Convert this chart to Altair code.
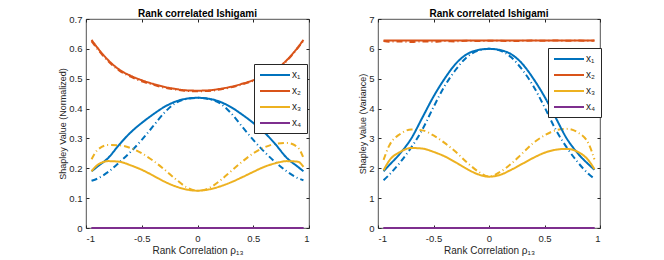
import altair as alt
import pandas as pd

rho = [-0.95, -0.9, -0.8, -0.7, -0.6, -0.5, -0.4, -0.3, -0.2, -0.1, 0.0,
       0.1, 0.2, 0.3, 0.4, 0.5, 0.6, 0.7, 0.8, 0.9, 0.95]
variables = ["x₁", "x₂", "x₃", "x₄"]
colors = ["#0072BD", "#D95319", "#EDB120", "#7E2F8E"]
methods = ["solid", "dashdot"]

# ---- left panel: normalized Shapley values ----
norm_x1_solid = [0.19, 0.205, 0.235, 0.28, 0.32, 0.352, 0.38, 0.405, 0.423, 0.433, 0.436,
                 0.433, 0.423, 0.405, 0.38, 0.352, 0.32, 0.28, 0.235, 0.205, 0.19]
norm_x1_dash = [0.158, 0.165, 0.188, 0.22, 0.255, 0.295, 0.34, 0.385, 0.418, 0.432, 0.436,
                0.432, 0.418, 0.385, 0.34, 0.295, 0.255, 0.22, 0.19, 0.167, 0.16]
norm_x2_solid = [0.63, 0.605, 0.562, 0.53, 0.51, 0.495, 0.483, 0.473, 0.466, 0.461, 0.46,
                 0.461, 0.466, 0.473, 0.483, 0.495, 0.51, 0.53, 0.562, 0.605, 0.63]
norm_x2_dash = [0.626, 0.601, 0.558, 0.527, 0.507, 0.491, 0.48, 0.47, 0.464, 0.459, 0.458,
                0.459, 0.464, 0.471, 0.481, 0.493, 0.508, 0.528, 0.56, 0.603, 0.628]
norm_x3_solid = [0.19, 0.21, 0.224, 0.222, 0.21, 0.195, 0.176, 0.156, 0.14, 0.129, 0.125,
                 0.129, 0.139, 0.153, 0.17, 0.188, 0.205, 0.217, 0.224, 0.222, 0.205]
norm_x3_dash = [0.23, 0.26, 0.278, 0.277, 0.268, 0.25, 0.226, 0.197, 0.165, 0.137, 0.125,
                0.133, 0.158, 0.19, 0.222, 0.25, 0.27, 0.282, 0.285, 0.27, 0.235]
norm_x4 = [0.0] * 21

# ---- right panel: Shapley values (variance) ----
var_x1_solid = [1.9, 2.1, 2.5, 3.0, 3.7, 4.4, 5.0, 5.5, 5.82, 5.96, 6.0,
                5.96, 5.82, 5.5, 5.0, 4.4, 3.7, 3.0, 2.5, 2.12, 1.95]
var_x1_dash = [1.6, 1.78, 2.2, 2.7, 3.3, 4.05, 4.75, 5.3, 5.72, 5.94, 6.0,
               5.94, 5.72, 5.3, 4.75, 4.05, 3.3, 2.7, 2.2, 1.8, 1.65]
var_x2_solid = [6.28, 6.28, 6.28, 6.28, 6.28, 6.28, 6.28, 6.28, 6.28, 6.28, 6.28,
                6.28, 6.28, 6.28, 6.28, 6.28, 6.28, 6.28, 6.28, 6.28, 6.28]
var_x2_dash = [6.26, 6.24, 6.25, 6.23, 6.25, 6.24, 6.26, 6.25, 6.27, 6.26, 6.27,
               6.27, 6.26, 6.27, 6.28, 6.27, 6.28, 6.27, 6.28, 6.27, 6.28]
var_x3_solid = [1.93, 2.25, 2.55, 2.68, 2.66, 2.55, 2.4, 2.2, 1.98, 1.8, 1.72,
                1.78, 1.95, 2.15, 2.35, 2.52, 2.62, 2.65, 2.55, 2.25, 1.97]
var_x3_dash = [2.28, 2.75, 3.15, 3.3, 3.27, 3.1, 2.85, 2.55, 2.2, 1.9, 1.72,
               1.88, 2.15, 2.5, 2.85, 3.1, 3.27, 3.32, 3.2, 2.8, 2.3]
var_x4 = [0.0] * 21


def build(series):
    rows = []
    for (v, m), vals in series.items():
        for r, y in zip(rho, vals):
            rows.append({"rho": r, "value": y, "var": v, "method": m})
    return pd.DataFrame(rows)


df_norm = build({
    ("x₁", "dashdot"): norm_x1_dash, ("x₂", "dashdot"): norm_x2_dash,
    ("x₃", "dashdot"): norm_x3_dash, ("x₄", "dashdot"): norm_x4,
    ("x₁", "solid"): norm_x1_solid, ("x₂", "solid"): norm_x2_solid,
    ("x₃", "solid"): norm_x3_solid, ("x₄", "solid"): norm_x4,
})
df_var = build({
    ("x₁", "dashdot"): var_x1_dash, ("x₂", "dashdot"): var_x2_dash,
    ("x₃", "dashdot"): var_x3_dash, ("x₄", "dashdot"): var_x4,
    ("x₁", "solid"): var_x1_solid, ("x₂", "solid"): var_x2_solid,
    ("x₃", "solid"): var_x3_solid, ("x₄", "solid"): var_x4,
})

FONT = "Liberation Sans"
INK = "#262626"
x_ticks = [-1, -0.5, 0, 0.5, 1]


def panel(df, ymax, yticks, ytitle, lx, ly, w, spaces):
    xs = alt.Scale(domain=[-1, 1], nice=False, zero=False)
    ys = alt.Scale(domain=[0, ymax], nice=False)
    lines = alt.Chart(df).mark_line(strokeWidth=2, interpolate="monotone").encode(
        x=alt.X("rho:Q", scale=xs, axis=alt.Axis(
            values=x_ticks, labelExpr="toString(datum.value)",
            title="Rank Correlation ρ₁₃", offset=-3, tickSize=3, domain=False,
            grid=False, labelPadding=5, titlePadding=3, labelFontSize=9.5,
            titleFontSize=10, titleFontWeight="normal")),
        y=alt.Y("value:Q", scale=ys, axis=alt.Axis(
            values=yticks, labelExpr="toString(datum.value)", title=ytitle,
            offset=-3, tickSize=3, domain=False, grid=False, labelPadding=4,
            titlePadding=1, labelFontSize=9.5, titleFontSize=9,
            titleFontWeight="normal")),
        color=alt.Color("var:N", scale=alt.Scale(domain=variables, range=colors),
                        legend=alt.Legend(
                            orient="none", legendX=lx, legendY=ly, title=None,
                            symbolType="M-1,0H5", symbolSize=100,
                            symbolStrokeWidth=2, labelOffset=21,
                            labelExpr="datum.label + '" + spaces + "'",
                            labelFontSize=10, labelFont=FONT, labelColor=INK,
                            fillColor="white", strokeColor=INK, padding=5,
                            rowPadding=5)),
        strokeDash=alt.StrokeDash("method:N", scale=alt.Scale(
            domain=methods, range=[[1, 0], [6, 3, 1, 3]]), legend=None),
    )
    frame = alt.Chart(df).mark_point(opacity=0).encode(
        x=alt.X("rho:Q", scale=xs, axis=alt.Axis(
            orient="top", values=x_ticks, labels=False, title=None, offset=-3,
            tickSize=3, domain=False, grid=False)),
        y=alt.Y("value:Q", scale=ys, axis=alt.Axis(
            orient="right", values=yticks, labels=False, title=None, offset=-3,
            tickSize=3, domain=False, grid=False)),
    )
    return alt.layer(frame, lines).resolve_scale(x="independent", y="independent").properties(
        width=w, height=209,
        title=alt.TitleParams("Rank correlated Ishigami", fontSize=10,
                              fontWeight="bold", font=FONT, color="black",
                              offset=-5),
    )


left = panel(df_norm, 0.7, [0, 0.1, 0.2, 0.3, 0.4, 0.5, 0.6, 0.7],
             "Shapley Value (Normalized)", 168, 45, 223, "   ")
right = panel(df_var, 7, [0, 1, 2, 3, 4, 5, 6, 7],
              "Shapley Value (Variance)", 170, 29, 222, "  ")

chart = alt.hconcat(left, right, spacing=48).resolve_scale(color="independent").properties(
    padding={"left": 50, "top": 0, "right": 0, "bottom": 0}
).configure(font=FONT).configure_view(
    stroke=INK, strokeWidth=0.8
).configure_axis(
    labelColor=INK, tickColor=INK, titleColor=INK, labelFont=FONT, titleFont=FONT
)

chart.save("out.html", embed_options={"renderer": "svg", "actions": False})
